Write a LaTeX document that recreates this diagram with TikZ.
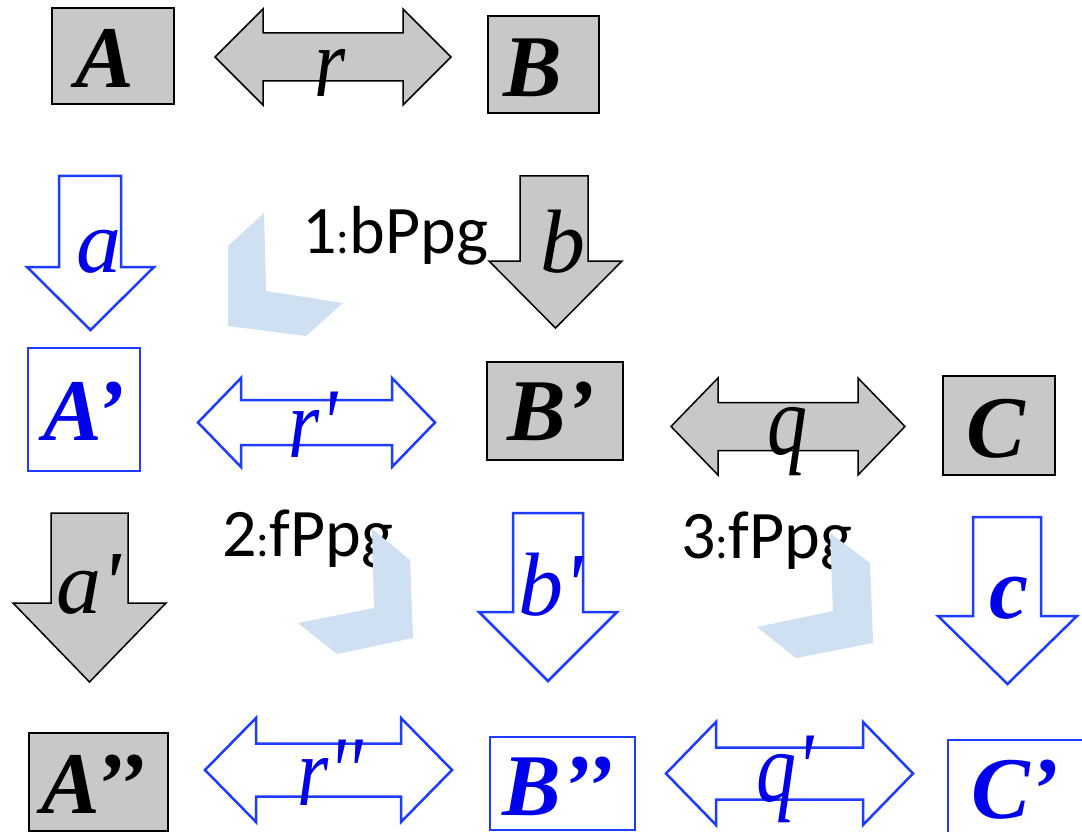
\documentclass[tikz,border=0pt]{standalone}
\usepackage{fontspec}
\newfontfamily\tnr{Liberation Serif}
\newfontfamily\calfont{Carlito}
\definecolor{boxgray}{RGB}{200,200,200}
\definecolor{lineblue}{RGB}{30,60,255}
\definecolor{textblue}{RGB}{0,0,235}
\definecolor{shadeblue}{RGB}{207,224,243}
\newcommand\smallcolon{{\fontsize{48}{48}\selectfont:}}
\tikzset{
  grayshape/.style={fill=boxgray, draw=black, line width=1.5pt},
  blueshape/.style={fill=white, draw=lineblue, line width=2.5pt},
  bigletter/.style={anchor=base, inner sep=0pt, font=\tnr\bfseries\itshape\fontsize{88}{90}\selectfont},
  smallletter/.style={anchor=base, inner sep=0pt, font=\tnr\itshape\fontsize{90}{92}\selectfont},
  arrowletter/.style={anchor=base, inner sep=0pt, font=\tnr\itshape\fontsize{100}{100}\selectfont},
  steptext/.style={anchor=base west, inner sep=0pt, font=\calfont\fontsize{68}{70}\selectfont},
  shade/.style={fill=shadeblue, draw=none},
}
% horizontal double arrow: style, x1, x2, yc, H, h, L
\newcommand\hdarrow[7]{%
  \draw[#1] (#2,#4) -- (#2+#7,#4-#5) -- (#2+#7,#4-#6) -- (#3-#7,#4-#6) -- (#3-#7,#4-#5)
    -- (#3,#4) -- (#3-#7,#4+#5) -- (#3-#7,#4+#6) -- (#2+#7,#4+#6) -- (#2+#7,#4+#5) -- cycle;}
% vertical down arrow: style, sx1, sx2, top, base, hx1, hx2, tip
\newcommand\vdarrow[8]{%
  \draw[#1] (#2,#4) -- (#3,#4) -- (#3,#5) -- (#7,#5) -- ({(#6+#7)/2},#8) -- (#6,#5) -- (#2,#5) -- cycle;}
\begin{document}
\begin{tikzpicture}[x=1pt,y=-1pt]
\clip (0,0) rectangle (1082,832);
\fill[white] (0,0) rectangle (1082,832);

% ---- row 1
\node[grayshape, line width=2pt, minimum width=122pt, minimum height=96pt, inner sep=0pt] (boxA) at (113,56) {};
\node[bigletter] (labA) at (105,88) {A};
\hdarrow{grayshape}{215}{451}{57}{48}{24}{48}
\node[arrowletter] (labr) at (330,97) {\scalebox{0.8}[1]{r}};
\node[grayshape, line width=2pt, minimum width=111pt, minimum height=97pt, inner sep=0pt] (boxB) at (543.5,64.5) {};
\node[bigletter] (labB) at (533,97) {B};

% ---- row 2
\vdarrow{blueshape}{59}{121}{176}{267}{27}{154}{330}
\node[smallletter, text=textblue] (laba) at (99,272) {a};
\vdarrow{grayshape}{520}{588}{176}{261}{489}{622}{328}
\node[smallletter] (labb) at (563,272) {b};
\fill[shade] (228,246) -- (264,213) -- (266,291) -- (343,303) -- (306,336) -- (228,326) -- cycle;
\node[steptext] (step1) at (302,253) {1\smallcolon bPpg};

% ---- row 3
\node[blueshape, line width=2pt, minimum width=112pt, minimum height=123pt, inner sep=0pt] (boxA1) at (84,409.5) {};
\node[bigletter, text=textblue] (labA1) at (84,440) {A’};
\hdarrow{blueshape}{198}{435}{422.5}{44.5}{22.5}{43}
\node[arrowletter, text=textblue] (labr1) at (313,457) {\scalebox{0.8}[1]{r'}};
\node[grayshape, line width=2pt, minimum width=136pt, minimum height=98pt, inner sep=0pt] (boxB1) at (555,411) {};
\node[bigletter] (labB1) at (551,440) {B’};
\hdarrow{grayshape}{671}{905}{426.5}{48.5}{24}{47}
\node[arrowletter] (labq) at (787,454) {\scalebox{0.8}[1]{q}};
\node[grayshape, line width=2pt, minimum width=112pt, minimum height=99pt, inner sep=0pt] (boxC) at (999,425.5) {};
\node[bigletter] (labC) at (996,457) {C};

% ---- row 4
\vdarrow{grayshape}{51}{128}{513}{603}{13}{166}{682}
\node[smallletter] (laba1) at (89,613) {a'};
\node[steptext] (step2) at (222,556) {2\smallcolon fPpg};
\fill[shade] (372,529) -- (410,560) -- (413,638) -- (337,654) -- (298,623) -- (374,608) -- cycle;
\vdarrow{blueshape}{513}{583}{513}{612}{479}{617}{681}
\node[smallletter, text=textblue] (labb1) at (551,615) {b'};
\node[steptext] (step3) at (681,558) {3\smallcolon fPpg};
\fill[shade] (830,533) -- (870,563) -- (873,643) -- (796,658) -- (757,627) -- (833,611) -- cycle;
\vdarrow{blueshape}{973}{1041}{517}{616}{938}{1077}{684}
\node[smallletter, text=textblue, font=\tnr\bfseries\itshape\fontsize{88}{90}\selectfont] (labc) at (1009,618) {c};

% ---- row 5
\node[grayshape, line width=2pt, minimum width=139pt, minimum height=98pt, inner sep=0pt] (boxA2) at (98.5,782) {};
\node[bigletter] (labA2) at (94,813) {A’’};
\hdarrow{blueshape}{205}{452}{770}{52}{26.5}{51}
\node[arrowletter, text=textblue] (labr2) at (330,805) {\scalebox{0.8}[1]{r''}};
\node[blueshape, line width=2pt, minimum width=145pt, minimum height=93pt, inner sep=0pt] (boxB2) at (562.5,783.5) {};
\node[bigletter, text=textblue] (labB2) at (558,815) {B’’};
\hdarrow{blueshape}{666}{913}{773.5}{51.5}{26}{50}
\node[arrowletter, text=textblue] (labq1) at (785,801) {\scalebox{0.8}[1]{q'}};
\node[blueshape, line width=2pt, minimum width=160pt, minimum height=120pt, inner sep=0pt, anchor=north west] (boxC1) at (947,739) {};
\node[bigletter, text=textblue] (labC1) at (1015,818) {C’};
\end{tikzpicture}
\end{document}
